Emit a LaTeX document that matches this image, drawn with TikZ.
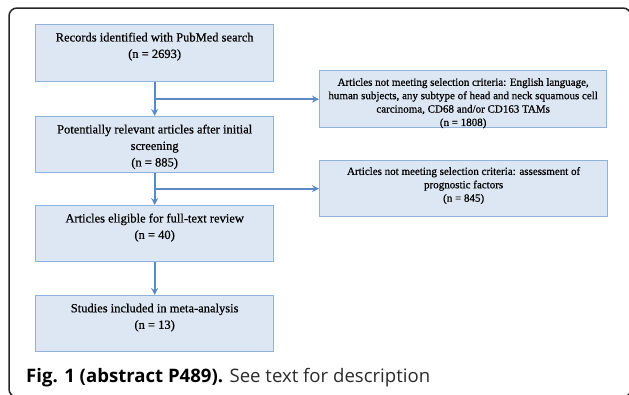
\documentclass[tikz,border=0pt]{standalone}
\usepackage{fontspec}
\setmainfont{Liberation Serif}[FakeBold=0.6]
\newfontfamily\capfont{Open Sans}
\usetikzlibrary{arrows.meta}
\definecolor{boxfill}{HTML}{DDE7F3}
\definecolor{boxborder}{HTML}{8FB3DC}
\definecolor{linkblue}{HTML}{5A8AC6}
\definecolor{captext}{HTML}{2B2B2B}
\newcommand{\boxcontent}[4]{\begin{minipage}[c][#2pt][t]{#1pt}\centering\vspace*{#3pt}#4\end{minipage}}
\tikzset{
  flowbox/.style={draw=boxborder, fill=boxfill, line width=1.3pt, inner sep=0pt, anchor=north west},
  bigtext/.style={font=\fontsize{12.5}{16.5}\selectfont},
  smalltext/.style={font=\fontsize{11}{13.4}\selectfont},
  link/.style={draw=linkblue, line width=1.8pt},
  tipped/.style={-{Stealth[length=7pt,width=7pt]}},
}
\begin{document}
\begin{tikzpicture}[x=1pt,y=-1pt]
\useasboundingbox (0,0) rectangle (629,394);
\clip (0,0) rectangle (629,394);
\fill[white] (0,0) rectangle (629,394);
\draw[line width=1.5pt, black!85, rounded corners=8pt] (9,8) rectangle (631,397);

\node[flowbox, bigtext] (b1) at (35,24) {\boxcontent{238}{57}{8}{Records identified with PubMed search\\(n = 2693)}};
\node[flowbox, bigtext] (b2) at (35,116) {\boxcontent{238}{56}{8}{Potentially relevant articles after initial\\screening\\(n = 885)}};
\node[flowbox, bigtext] (b3) at (35,205) {\boxcontent{238}{56}{8}{Articles eligible for full-text review\\(n = 40)}};
\node[flowbox, bigtext] (b4) at (35,295) {\boxcontent{238}{56}{8}{Studies included in meta-analysis\\(n = 13)}};

\node[flowbox, smalltext] (r1) at (319,70) {\boxcontent{287}{57}{7.5}{Articles not meeting selection criteria: English language,\\human subjects, any subtype of head and neck squamous cell\\carcinoma, CD68 and/or CD163 TAMs\\(n = 1808)}};
\node[flowbox, smalltext] (r2) at (319,160) {\boxcontent{288}{56}{6.5}{Articles not meeting selection criteria: assessment of\\prognostic factors\\(n = 845)}};

\draw[link, tipped] (b1.south) -- (b2.north);
\draw[link, tipped] (b1.south |- r1.west) -- (r1.west);
\draw[link, tipped] (b2.south) -- (b3.north);
\draw[link, tipped] (b2.south |- r2.west) -- (r2.west);
\draw[link, tipped] (b3.south) -- (b4.north);

\node[anchor=base west, inner sep=0pt, text=captext] (cap) at (26,382) {\resizebox{404pt}{!}{\capfont\fontsize{19.5}{22}\selectfont\textbf{\color{black}Fig. 1 (abstract P489).} See text for description}};
\end{tikzpicture}
\end{document}
